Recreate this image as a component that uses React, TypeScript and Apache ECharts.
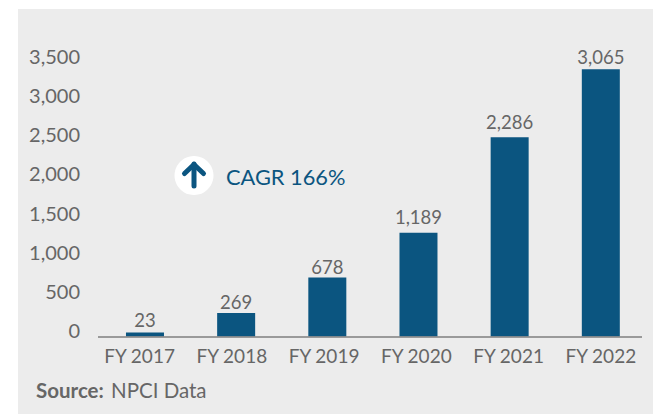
import React, { useEffect, useRef } from "react";
import * as echarts from "echarts";

const categories = ["FY 2017", "FY 2018", "FY 2019", "FY 2020", "FY 2021", "FY 2022"];
const values = [23, 269, 678, 1189, 2286, 3065];
const labelGaps = [3, 2, 1, 6, 6, 3];
const BLUE = "#0b5580";
const GREY = "#666666";
const FONT = "Lato";
const fmt = (v: number) => v.toLocaleString("en-US");

export default function App() {
  const ref = useRef<HTMLDivElement>(null);
  useEffect(() => {
    const chart = echarts.init(ref.current!, null, { renderer: "svg" });
    chart.setOption({
      animation: false,
      backgroundColor: "#ffffff",
      textStyle: { fontFamily: FONT },
      grid: [
        { left: 99.4, width: 547, top: 31.3, height: 305.2 },
        { left: 93.4, width: 553.5, top: 56, height: 274 },
      ],
      xAxis: [
        { gridIndex: 0, type: "category", data: categories, show: false },
        {
          gridIndex: 1,
          type: "category",
          data: categories,
          axisLine: { show: false },
          axisTick: { show: false },
          axisLabel: { margin: 15.5, fontSize: 19, color: GREY, fontFamily: FONT, interval: 0 },
        },
      ],
      yAxis: [
        { gridIndex: 0, type: "value", min: 0, max: 3500, show: false },
        {
          gridIndex: 1,
          type: "value",
          min: 0,
          max: 3500,
          interval: 500,
          axisLine: { show: false },
          axisTick: { show: false },
          splitLine: { show: false },
          axisLabel: {
            margin: 13.4,
            fontSize: 20,
            color: GREY,
            fontFamily: FONT,
            formatter: (v: number) => fmt(v),
          },
        },
      ],
      series: [
        {
          type: "bar",
          xAxisIndex: 0,
          yAxisIndex: 0,
          data: values.map((value, i) => ({ value, label: { distance: labelGaps[i] } })),
          barWidth: 38,
          barMinHeight: 4,
          itemStyle: { color: BLUE },
          label: {
            show: true,
            position: "top",
            fontSize: 18.5,
            color: GREY,
            fontFamily: FONT,
            formatter: (p: any) => fmt(p.value),
          },
        },
      ],
      graphic: [
        { type: "rect", z: -1, shape: { x: 18, y: 9, width: 635, height: 405 }, style: { fill: "#ececec" } },
        { type: "line", z: 5, shape: { x1: 98, y1: 337, x2: 642, y2: 337 }, style: { stroke: "#7f7f7f", lineWidth: 1.6 } },
        { type: "circle", z: 1, shape: { cx: 194, cy: 175.5, r: 19.5 }, style: { fill: "#ffffff" } },
        {
          type: "polyline",
          z: 2,
          shape: { points: [[194, 186], [194, 164]] },
          style: { stroke: BLUE, lineWidth: 5, lineCap: "round", fill: "none" },
        },
        {
          type: "polyline",
          z: 2,
          shape: { points: [[184.5, 173.5], [194, 164.5], [203.5, 173.5]] },
          style: { stroke: BLUE, lineWidth: 5, lineCap: "round", lineJoin: "round", fill: "none" },
        },
        {
          type: "text",
          z: 2,
          x: 226,
          y: 176,
          style: { text: "CAGR 166%", fill: BLUE, font: `21.8px ${FONT}`, textVerticalAlign: "middle" },
        },
        {
          type: "text",
          z: 2,
          x: 36,
          y: 390,
          style: { text: "Source:", fill: GREY, font: `bold 20.5px ${FONT}`, textVerticalAlign: "middle" },
        },
        {
          type: "text",
          z: 2,
          x: 111,
          y: 390,
          style: { text: "NPCI Data", fill: GREY, font: `20.5px ${FONT}`, textVerticalAlign: "middle" },
        },
      ],
    });
    return () => chart.dispose();
  }, []);
  return <div ref={ref} style={{ position: "fixed", left: 0, top: 0, width: 653, height: 414 }} />;
}
